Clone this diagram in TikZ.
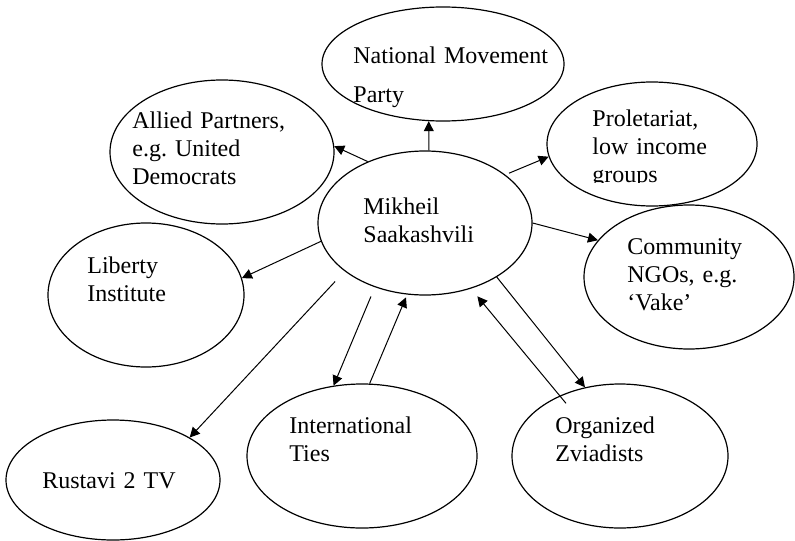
\documentclass[tikz,border=0pt]{standalone}
\usepackage{fontspec}
\setmainfont{Liberation Serif}
\usetikzlibrary{arrows.meta, shapes.geometric}

\begin{document}
\begin{tikzpicture}[x = 0.5pt, y = -0.5pt,
        elipse/.style = {draw, ellipse, line width = 0.6pt, inner sep = 0pt},
        texto/.style = {anchor = base west, inner sep = 0pt, align = left,
                        text width = 140pt, font = \fontsize{12}{14}\selectfont\frenchspacing},
        flecha/.style = {line width = 0.5pt, -{Triangle[length = 5pt, width = 5pt]}}]

% marco
\useasboundingbox[fill = white] (0, 0) rectangle (795, 540);

% Elipses
\node[elipse, minimum width = 107pt, minimum height = 72pt] (mikheil) at (425, 223) {};
\node[elipse, minimum width = 121pt, minimum height = 57pt] (natl)    at (443, 64)  {};
\node[elipse, minimum width = 112pt, minimum height = 72pt] (allied)  at (222, 152) {};
\node[elipse, minimum width = 105pt, minimum height = 62pt] (prolet)  at (652, 144) {};
\node[elipse, minimum width = 105pt, minimum height = 72pt] (comm)    at (689, 277) {};
\node[elipse, minimum width = 98pt,  minimum height = 72pt] (liberty) at (146, 295) {};
\node[elipse, minimum width = 107pt, minimum height = 60pt] (rustavi) at (113, 480) {};
\node[elipse, minimum width = 115pt, minimum height = 72pt] (intl)    at (362, 456) {};
\node[elipse, minimum width = 108pt, minimum height = 72pt] (zviad)   at (620, 456) {};

% Textos
\node[texto] (mikheil-txt) at (363, 214) {Mikheil\\Saakashvili};
\node[texto] (natl-txt)    at (353, 63)  {National\hspace{4pt}Movement\\[5.5pt]Party};
\node[texto] (allied-txt)  at (132, 128) {Allied Partners,\\e.g. United\\Democrats};
\begin{scope}
    \clip (540, 80) rectangle (760, 182);
    \node[texto] (prolet-txt) at (592, 126) {Proletariat,\\low income\\groups};
\end{scope}
\node[texto] (comm-txt)    at (627, 254) {Community\\NGOs, e.g.\\`Vake'};
\node[texto] (liberty-txt) at (87, 273)  {Liberty\\Institute};
\node[texto] (rustavi-txt) at (42, 488)  {Rustavi 2 TV};
\node[texto] (intl-txt)    at (289, 433) {International\\Ties};
\node[texto] (zviad-txt)   at (555, 433) {Organized\\Zviadists};

% Flechas
\draw[flecha] (mikheil.87) -- (natl.256);
\draw[flecha] (mikheil.133) -- (allied.3);
\draw[flecha, shorten <= 2pt] (mikheil.31) -- (prolet.187);
\draw[flecha] (mikheil.east) -- (comm.158);
\draw[flecha] (mikheil.190) -- (liberty.10);
\draw[flecha, shorten <= 7pt] (mikheil.211) -- (rustavi.29);
\draw[flecha, shorten <= 5pt] (mikheil.232) -- (intl.112);
\draw[flecha, shorten >= 1.5pt] (intl.84) -- (mikheil.256);
\draw[flecha, shorten <= -5pt, shorten >= 5pt] (zviad.135) -- (mikheil.305);
\draw[flecha] (mikheil.323) -- (zviad.117);

\end{tikzpicture}
\end{document}
